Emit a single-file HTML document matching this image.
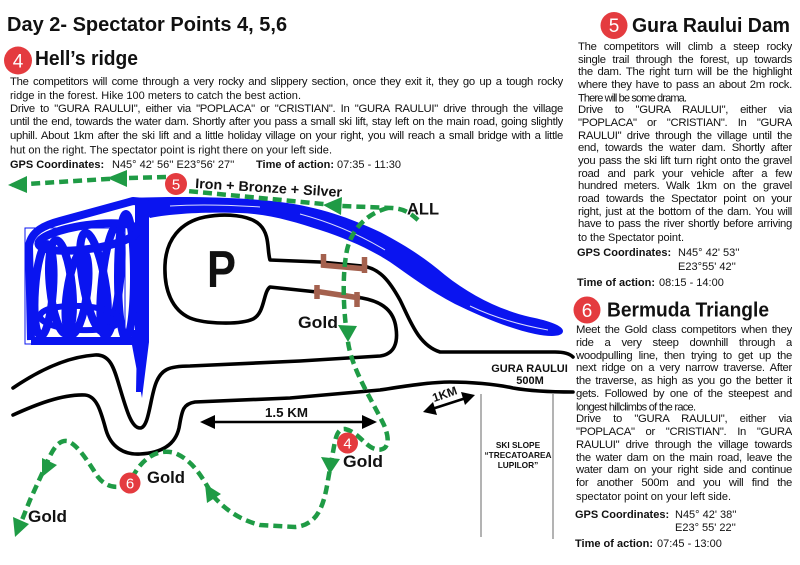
<!DOCTYPE html>
<html><head><meta charset="utf-8">
<style>
html,body{margin:0;padding:0;background:#fff;width:800px;height:565px;overflow:hidden;position:relative;}
svg{display:block;position:absolute;left:0;top:0;}
text{font-family:"Liberation Sans",Arial,sans-serif;fill:#111;}
.p{font-size:11px;}
.b{font-weight:bold;}
.h{font-size:20px;font-weight:bold;}
.g{font-size:17px;font-weight:bold;}
.n{fill:#fff;font-family:"Liberation Sans",Arial,sans-serif;}
.j{position:absolute;font-family:"Liberation Sans",Arial,sans-serif;font-size:11.3px;line-height:13px;height:13px;overflow:hidden;text-align:justify;text-align-last:justify;letter-spacing:-0.3px;color:#111;margin:0;padding:0;}
</style></head><body>
<svg width="800" height="565" viewBox="0 0 800 565" xmlns="http://www.w3.org/2000/svg">
<rect width="800" height="565" fill="#fff"/>

<!-- Title -->
<text x="7" y="31" class="b" font-size="20">Day 2- Spectator Points 4, 5,6</text>

<!-- Section 4 heading -->
<circle cx="18" cy="60.5" r="14" fill="#e43b3f"/>
<text x="18" y="67.5" class="n" font-size="19" text-anchor="middle">4</text>
<text x="35" y="65" class="h" textLength="103" lengthAdjust="spacingAndGlyphs">Hell’s ridge</text>

<text class="p" x="10" y="99.1" textLength="291" lengthAdjust="spacing">ridge in the forest. Hike 100 meters to catch the best action.</text>
<text class="p" x="10" y="153.5" textLength="322" lengthAdjust="spacing">hut on the right. The spectator point is right there on your left side.</text>

<text class="p b" x="10" y="168">GPS Coordinates:</text>
<text class="p" x="112" y="168">N45° 42' 56'' E23°56' 27''</text>
<text class="p b" x="256" y="168">Time of action:</text>
<text class="p" x="337" y="168">07:35 - 11:30</text>

<!-- Section 5 -->
<circle cx="614" cy="25.5" r="13.5" fill="#e43b3f"/>
<text x="614" y="32" class="n" font-size="19" text-anchor="middle">5</text>
<text x="632" y="32" class="h" textLength="158" lengthAdjust="spacingAndGlyphs">Gura Raului Dam</text>

<text class="p" x="578" y="101.7" textLength="109" lengthAdjust="spacing">There will be some drama.</text>
<text class="p" x="578" y="241" textLength="106" lengthAdjust="spacing">to the Spectator point.</text>

<text class="p b" x="577" y="256">GPS Coordinates:</text>
<text class="p" x="678" y="256">N45° 42' 53''</text>
<text class="p" x="678" y="270">E23°55' 42''</text>
<text class="p b" x="577" y="286">Time of action:</text>
<text class="p" x="659" y="286">08:15 - 14:00</text>

<!-- Section 6 -->
<circle cx="587" cy="310" r="13.5" fill="#e43b3f"/>
<text x="587" y="317" class="n" font-size="19" text-anchor="middle">6</text>
<text x="607" y="316.5" class="h" textLength="162" lengthAdjust="spacingAndGlyphs">Bermuda Triangle</text>

<text class="p" x="576" y="410.5" textLength="120" lengthAdjust="spacing">longest hillclimbs of the race.</text>
<text class="p" x="576" y="499.8" textLength="155" lengthAdjust="spacing">spectator point on your left side.</text>

<text class="p b" x="575" y="518">GPS Coordinates:</text>
<text class="p" x="675" y="518">N45° 42' 38''</text>
<text class="p" x="675" y="531">E23° 55' 22''</text>
<text class="p b" x="575" y="547">Time of action:</text>
<text class="p" x="657" y="547">07:45 - 13:00</text>

<!-- Ski slope lines -->
<g stroke="#9a9a9a" stroke-width="1.5">
<line x1="481" y1="394" x2="481" y2="537"/>
<line x1="553" y1="394" x2="553" y2="539"/>
</g>
<text x="518" y="448" class="b" font-size="8.3" text-anchor="middle">SKI SLOPE</text>
<text x="518" y="458" class="b" font-size="8.3" text-anchor="middle">“TRECATOAREA</text>
<text x="518" y="468" class="b" font-size="8.3" text-anchor="middle">LUPILOR”</text>

<!-- Roads -->
<g stroke="#000" stroke-width="3.6" fill="none" stroke-linecap="round" stroke-linejoin="round">
<path d="M13,388 C35,373 65,357 95,355 C110,354 114,368 119,385 C126,408 131,428 140,428 C149,428 150,398 156,383 C161,370 168,366 190,366 L300,361 L380,356 C395,354 398,342 396,328 C394,312 384,302 362,298 L317,292 L270,287 C263,292 265,313 253,319 C240,325 205,324 190,318 C172,310 164,290 165,265 C166,240 180,222 205,217 C225,213 250,215 260,225 C270,235 267,250 270,260 L320,262 L362,266 C380,268 390,282 400,300 C410,320 418,345 440,352 L555,352 C565,352 570,354 573,357"/>
<path d="M13,415 C35,405 62,394 85,395 C97,396 101,412 106,430 C111,447 124,455 140,454 C160,453 175,446 179,428 C182,412 182,404 195,402 L290,398 L380,390 C400,387 430,382 450,382 C470,382 495,384 513,388 C530,391 550,392 573,392"/>
</g>

<!-- Bridges -->
<g stroke="#a4614e" stroke-width="5.5" fill="none">
<line x1="321" y1="265" x2="367" y2="269"/>
<line x1="323.5" y1="254" x2="323.5" y2="267"/>
<line x1="364.5" y1="257" x2="364.5" y2="273"/>
<line x1="314" y1="291" x2="360" y2="298"/>
<line x1="317" y1="285" x2="317" y2="299"/>
<line x1="357" y1="292" x2="357" y2="307"/>
</g>

<!-- River / lake -->
<g fill="#0a14f0">
<path d="M133,198 C180,196 240,197 280,202 C320,207 350,218 380,232 C405,245 425,258 445,275 C470,295 500,310 530,317 C550,321 563,326 563,331 C563,337 550,337 535,334 C510,329 480,316 455,304 C430,291 410,276 390,262 C370,249 345,238 320,230 C295,222 270,214 240,213 C210,212 175,213 150,218 Z"/>
<rect x="135" y="199" width="14" height="143"/>
<path d="M132,330 L149,330 L149,342 L142,398 L132,345 Z"/>
</g>
<rect x="25" y="228" width="100" height="116" fill="none" stroke="#0a14f0" stroke-width="1"/>
<g stroke="#0a14f0" fill="none" stroke-width="8" stroke-linejoin="round">
<path d="M31,340 L29,246 C31,231 45,225 60,221 L133,201 L145,202 L145,341 L31,341"/>
<ellipse cx="44" cy="290" rx="9" ry="46" transform="rotate(4 44 290)"/>
<ellipse cx="61" cy="287" rx="11" ry="47" transform="rotate(-6 61 287)"/>
<ellipse cx="77" cy="293" rx="10" ry="42" transform="rotate(8 77 293)"/>
<ellipse cx="94" cy="282" rx="11" ry="50" transform="rotate(-10 94 282)"/>
<ellipse cx="111" cy="281" rx="9" ry="55" transform="rotate(6 111 281)"/>
<ellipse cx="126" cy="276" rx="8" ry="62"/>
<ellipse cx="88" cy="237" rx="50" ry="12" transform="rotate(-8 88 237)"/>
<ellipse cx="80" cy="318" rx="40" ry="12" transform="rotate(3 80 318)" stroke-width="6"/>
<path d="M140,340 L139,392" stroke-width="6"/>
</g>
<g stroke="#fff" stroke-width="1" fill="none" opacity="0.85">
<path d="M300,214 C330,222 360,235 385,250"/>
<path d="M470,306 C495,318 520,325 548,330"/>
<path d="M170,206 C200,204 230,205 260,207"/>
</g>

<!-- Green routes -->
<g stroke="#1f9b45" stroke-width="4.5" fill="none" stroke-dasharray="9 5">
<path d="M418,220 C410,213 405,209 392,208 L342,206 L323,204 L250,197 L187,191"/>
<path d="M166,177 L127,178 L107,179 L27,184 L12,185"/>
<path d="M388,208 C368,213 352,228 347,250 C342,275 343,310 348,342 C352,370 372,400 384,425 C392,444 386,452 375,449 C365,446 358,432 345,429 C336,428 335,442 333,452 L328,480 C324,505 318,525 295,527 L260,525 C240,520 226,510 214,497 C204,482 196,462 175,453 C158,448 142,458 132,478 C125,490 108,490 98,477 C90,465 78,444 67,441 C58,440 52,450 46,465 L30,500 C26,510 22,520 16,535"/>
</g>
<g fill="#1f9b45">
<polygon points="8,185 27,176 27,193"/>
<polygon points="107,178 127,170 127,187"/>
<polygon points="323,205 342,197 341,215"/>
<polygon points="348,342 338,325 357,326"/>
<polygon points="330,474 321,457 340,459"/>
<polygon points="205,484 221,494 207,503"/>
<polygon points="42,477 57,465 42,458"/>
<polygon points="15,537 29,524 13,517"/>
</g>

<!-- Map circles -->
<circle cx="176" cy="184" r="11" fill="#e43b3f"/>
<text x="176" y="189.5" class="n" font-size="15" text-anchor="middle">5</text>
<circle cx="347.5" cy="443" r="10.5" fill="#e43b3f"/>
<text x="347.5" y="448.5" class="n" font-size="15" text-anchor="middle">4</text>
<circle cx="130" cy="483" r="10.5" fill="#e43b3f"/>
<text x="130" y="488.5" class="n" font-size="15" text-anchor="middle">6</text>

<!-- Map labels -->
<text x="195" y="188" class="b" font-size="14" textLength="147" lengthAdjust="spacingAndGlyphs" transform="rotate(3.5 195 188)">Iron + Bronze + Silver</text>
<text x="407" y="214.5" class="b" font-size="17" textLength="32" lengthAdjust="spacingAndGlyphs">ALL</text>
<text x="207" y="287" class="b" font-size="52" textLength="29" lengthAdjust="spacingAndGlyphs">P</text>
<text x="298" y="328" class="g" textLength="40" lengthAdjust="spacingAndGlyphs">Gold</text>
<text x="343" y="467" class="g" textLength="40" lengthAdjust="spacingAndGlyphs">Gold</text>
<text x="147" y="483" class="g" textLength="38" lengthAdjust="spacingAndGlyphs">Gold</text>
<text x="28" y="522" class="g" textLength="39" lengthAdjust="spacingAndGlyphs">Gold</text>

<text x="529.5" y="372" class="b" font-size="11" text-anchor="middle">GURA RAULUI</text>
<text x="530" y="384" class="b" font-size="11" text-anchor="middle">500M</text>

<!-- 1.5 KM arrow -->
<line x1="210" y1="422" x2="368" y2="422" stroke="#000" stroke-width="2.6"/>
<polygon points="200,422 215,415 215,429" fill="#000"/>
<polygon points="377,422 362,415 362,429" fill="#000"/>
<text x="265" y="417" class="b" font-size="13" textLength="43" lengthAdjust="spacingAndGlyphs">1.5 KM</text>

<!-- 1KM arrow -->
<line x1="432" y1="409" x2="466" y2="398" stroke="#000" stroke-width="2.6"/>
<polygon points="423,412 437,415 433,402" fill="#000"/>
<polygon points="475,395 461,392 465,405" fill="#000"/>
<text x="446" y="398" class="b" font-size="12" text-anchor="middle" transform="rotate(-19 446 398)">1KM</text>
</svg>

<!-- Justified paragraph lines (left) -->
<div class="j" style="left:10px;top:75.5px;width:553px;">The competitors will come through a very rocky and slippery section, once they exit it, they go up a tough rocky</div>
<div class="j" style="left:10px;top:102.7px;width:553px;">Drive to "GURA RAULUI", either via "POPLACA" or "CRISTIAN". In "GURA RAULUI" drive through the village</div>
<div class="j" style="left:10px;top:116.3px;width:553px;">until the end, towards the water dam. Shortly after you pass a small ski lift, stay left on the main road, going slightly</div>
<div class="j" style="left:10px;top:129.9px;width:553px;">uphill. About 1km after the ski lift and a little holiday village on your right, you will reach a small bridge with a little</div>

<!-- Justified lines (section 5) -->
<div class="j" style="left:578px;top:41px;width:214px;">The competitors will climb a steep rocky</div>
<div class="j" style="left:578px;top:53.7px;width:214px;">single trail through the forest, up towards</div>
<div class="j" style="left:578px;top:66.3px;width:214px;">the dam. The right turn will be the highlight</div>
<div class="j" style="left:578px;top:79px;width:214px;">where they have to pass an about 2m rock.</div>
<div class="j" style="left:578px;top:104.3px;width:214px;">Drive to "GURA RAULUI", either via</div>
<div class="j" style="left:578px;top:117px;width:214px;">"POPLACA" or "CRISTIAN". In "GURA</div>
<div class="j" style="left:578px;top:129.7px;width:214px;">RAULUI" drive through the village until the</div>
<div class="j" style="left:578px;top:142.3px;width:214px;">end, towards the water dam. Shortly after</div>
<div class="j" style="left:578px;top:155px;width:214px;">you pass the ski lift turn right onto the gravel</div>
<div class="j" style="left:578px;top:167.7px;width:214px;">road and park your vehicle after a few</div>
<div class="j" style="left:578px;top:180.3px;width:214px;">hundred meters. Walk 1km on the gravel</div>
<div class="j" style="left:578px;top:193px;width:214px;">road towards the Spectator point on your</div>
<div class="j" style="left:578px;top:205.7px;width:214px;">right, just at the bottom of the dam. You will</div>
<div class="j" style="left:578px;top:218.3px;width:214px;">have to pass the river shortly before arriving</div>

<!-- Justified lines (section 6) -->
<div class="j" style="left:576px;top:324px;width:216px;">Meet the Gold class competitors when they</div>
<div class="j" style="left:576px;top:336.8px;width:216px;">ride a very steep downhill through a</div>
<div class="j" style="left:576px;top:349.5px;width:216px;">woodpulling line, then trying to get up the</div>
<div class="j" style="left:576px;top:362.3px;width:216px;">next ridge on a very narrow traverse. After</div>
<div class="j" style="left:576px;top:375px;width:216px;">the traverse, as high as you go the better it</div>
<div class="j" style="left:576px;top:387.8px;width:216px;">gets. Followed by one of the steepest and</div>
<div class="j" style="left:576px;top:413.3px;width:216px;">Drive to "GURA RAULUI", either via</div>
<div class="j" style="left:576px;top:426px;width:216px;">"POPLACA" or "CRISTIAN". In "GURA</div>
<div class="j" style="left:576px;top:438.8px;width:216px;">RAULUI" drive through the village towards</div>
<div class="j" style="left:576px;top:451.5px;width:216px;">the water dam on the main road, leave the</div>
<div class="j" style="left:576px;top:464.3px;width:216px;">water dam on your right side and continue</div>
<div class="j" style="left:576px;top:477px;width:216px;">for another 500m and you will find the</div>
</body></html>
